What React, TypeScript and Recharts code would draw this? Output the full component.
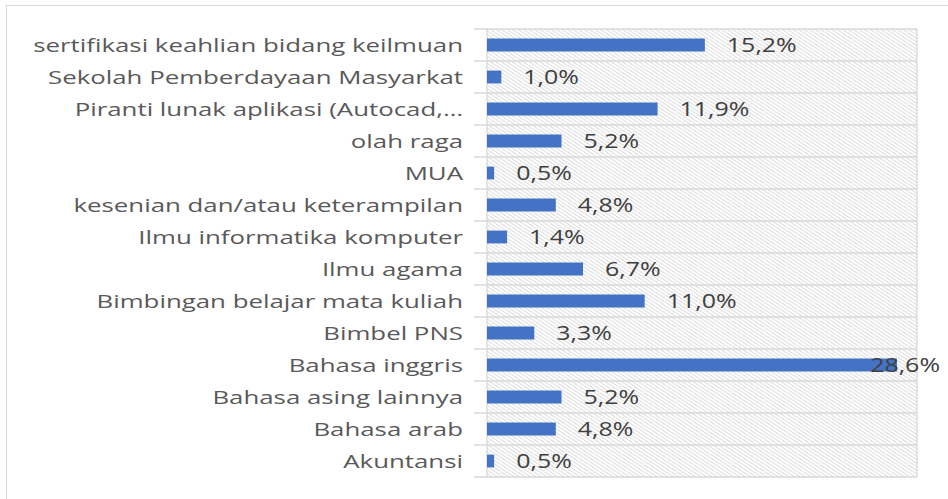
import React from "react";
import { BarChart, Bar, XAxis, YAxis, CartesianGrid, LabelList } from "recharts";

const categories = [
  "sertifikasi keahlian bidang keilmuan",
  "Sekolah Pemberdayaan Masyarkat",
  "Piranti lunak aplikasi (Autocad,…",
  "olah raga",
  "MUA",
  "kesenian dan/atau keterampilan",
  "Ilmu informatika komputer",
  "Ilmu agama",
  "Bimbingan belajar mata kuliah",
  "Bimbel PNS",
  "Bahasa inggris",
  "Bahasa asing lainnya",
  "Bahasa arab",
  "Akuntansi",
];
const values = [15.2, 1.0, 11.9, 5.2, 0.5, 4.8, 1.4, 6.7, 11.0, 3.3, 28.6, 5.2, 4.8, 0.5];
const xTicks = [0, 5, 10, 15, 20, 25, 30];

const data = categories.map((name, i) => ({ name, value: values[i] }));

const W = 948;
const H = 499;
const MARGIN = { top: 29, right: 31, bottom: 22, left: 0 };
const YW = 487;
const PLOT_RIGHT = W - MARGIN.right;
const SX_CAT = 1.36;
const SX_VAL = 1.28;
const FONT = "'Open Sans', 'DejaVu Sans', sans-serif";
const GRID = "#d9d9d9";

const CatTick = (props: any) => {
  const { x, y, payload, index } = props;
  const half = payload && payload.offset ? payload.offset : 16;
  return (
    <g>
      <line x1={x - 7} x2={PLOT_RIGHT} y1={y - half} y2={y - half} stroke={GRID} strokeWidth={1.3} />
      {index === categories.length - 1 && (
        <line x1={x - 7} x2={PLOT_RIGHT} y1={y + half} y2={y + half} stroke={GRID} strokeWidth={1.3} />
      )}
      <text
        transform={`translate(${x - 18},${y}) scale(${SX_CAT},1)`}
        textAnchor="end"
        dominantBaseline="central"
        fontSize={19}
        fontFamily={FONT}
        fill="#595959"
      >
        {payload.value}
      </text>
    </g>
  );
};

const ValueLabel = (props: any) => {
  const { x, y, width, height, value } = props;
  const txt = Number(value).toFixed(1).replace(".", ",") + "%";
  let tx = x + width + 22;
  let anchor = "start";
  const estW = txt.length * 14.5;
  if (tx + estW > 940) {
    tx = 940;
    anchor = "end";
  }
  return (
    <text
      transform={`translate(${tx},${y + height / 2}) scale(${SX_VAL},1)`}
      textAnchor={anchor as any}
      dominantBaseline="central"
      fontSize={19.5}
      fontFamily={FONT}
      fill="#404040"
    >
      {txt}
    </text>
  );
};

export default function App() {
  return (
    <div style={{ position: "absolute", left: 0, top: 0, width: W, height: H, background: "#fff", overflow: "hidden" }}>
      <div
        style={{
          position: "absolute",
          left: 6,
          top: 5,
          width: W - 6,
          height: H - 5,
          borderTop: `1px solid ${GRID}`,
          borderLeft: `1px solid ${GRID}`,
          boxSizing: "border-box",
        }}
      />
      <div style={{ position: "absolute", left: 0, top: 0 }}>
        <BarChart width={W} height={H} data={data} layout="vertical" margin={MARGIN} barCategoryGap="70%">
          <defs>
            <pattern id="hatch" patternUnits="userSpaceOnUse" width="5.5" height="3.6">
              <rect x="0" y="0" width="5.5" height="3.6" fill="#ffffff" />
              <line x1="-1" y1="-0.655" x2="6.5" y2="4.255" stroke="#cccccc" strokeWidth="0.9" />
            </pattern>
          </defs>
          <CartesianGrid horizontal={false} vertical={true} stroke={GRID} strokeWidth={1.3} fill="url(#hatch)" fillOpacity={1} />
          <XAxis type="number" domain={[0, 30]} ticks={xTicks} tick={false} axisLine={false} tickLine={false} height={0} />
          <YAxis
            type="category"
            dataKey="name"
            width={YW}
            axisLine={false}
            tickLine={false}
            tickMargin={0}
            tick={<CatTick />}
            interval={0}
          />
          <Bar dataKey="value" fill="#4472C4" isAnimationActive={false}>
            <LabelList dataKey="value" content={<ValueLabel />} />
          </Bar>
        </BarChart>
      </div>
    </div>
  );
}
